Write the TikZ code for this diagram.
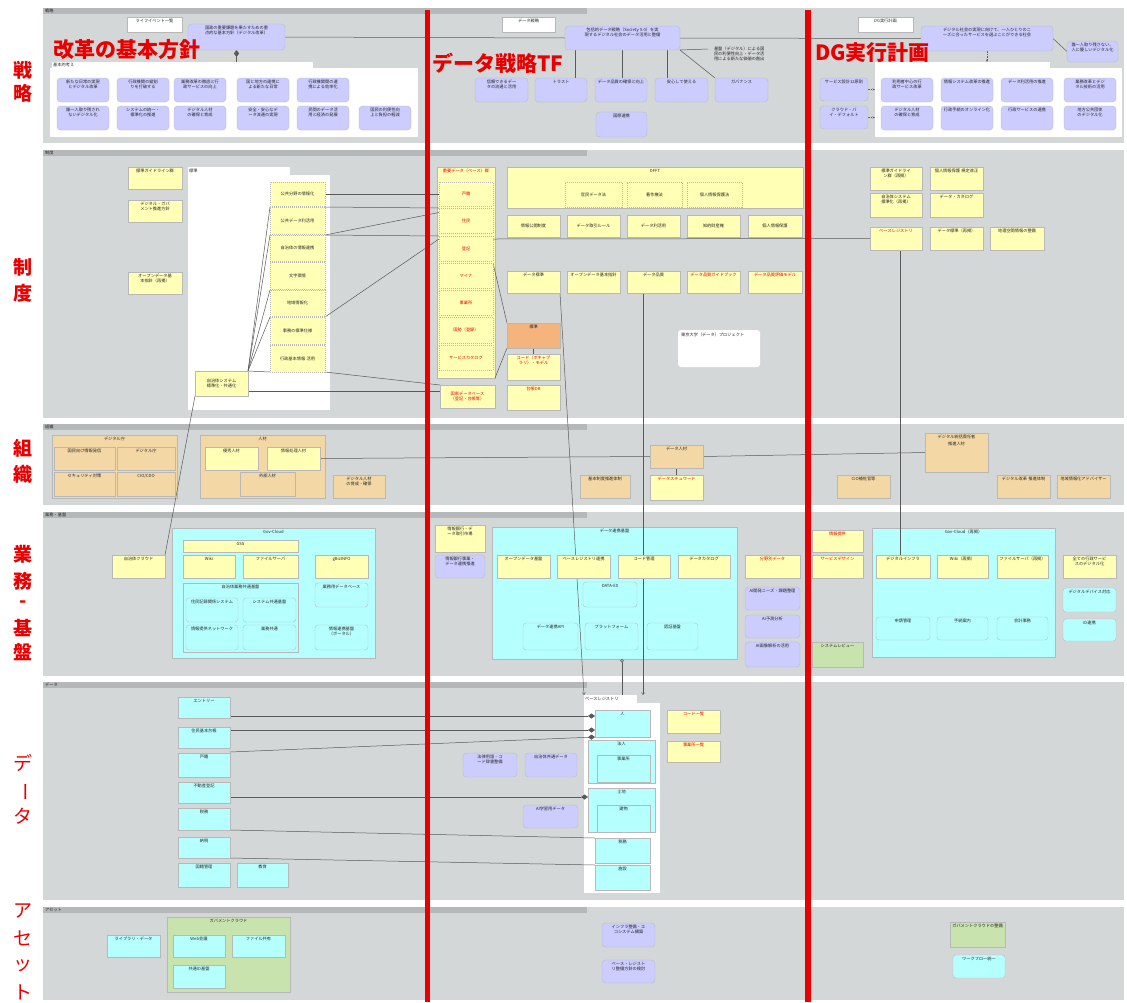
\documentclass[tikz,border=0pt]{standalone}
\usepackage{fontspec}
\setmainfont{Noto Sans CJK JP}
\XeTeXlinebreaklocale "ja"
\XeTeXlinebreakskip=0pt
\usetikzlibrary{arrows.meta,calc}
\pgfdeclarelayer{bg}
\pgfdeclarelayer{ln}
\pgfsetlayers{bg,ln,main}
\definecolor{pnl}{HTML}{D4D7D7}
\definecolor{hdr}{HTML}{B5B8B8}
\definecolor{cYel}{HTML}{FFFFB5}
\definecolor{cLav}{HTML}{CCCCFF}
\definecolor{cOra}{HTML}{F3D8A6}
\definecolor{cOra2}{HTML}{F5B47E}
\definecolor{cCya}{HTML}{B5FFFF}
\definecolor{cGrn}{HTML}{C8E3AE}
\definecolor{cRed}{HTML}{E80000}
\tikzset{
 box/.style={rectangle,inner sep=0pt,outer sep=0pt,draw=black!28,line width=0.3pt},
 yel/.style={fill=cYel}, lav/.style={fill=cLav,rounded corners=3.5pt},
 ora/.style={fill=cOra}, ora2/.style={fill=cOra2},
 cya/.style={fill=cCya}, cyr/.style={fill=cCya,rounded corners=3pt},
 grn/.style={fill=cGrn}, wht/.style={fill=white},
 dsh/.style={dash pattern=on 1pt off 1pt},
 txt/.style={font=\fontsize{4.2}{5}\selectfont,align=center,inner sep=0pt,text=black!85},
 cn/.style={draw=black!65,line width=0.5pt},
 side/.style={font=\bfseries\fontsize{19}{19}\selectfont,text=cRed,inner sep=0pt},
 sidel/.style={font=\fontsize{19}{19}\selectfont,text=cRed,inner sep=0pt},
 bigt/.style={font=\bfseries\fontsize{21}{21}\selectfont,text=cRed,inner sep=0pt,anchor=west},
}
\newcommand\rt[1]{\textcolor{cRed}{#1}}
\newcommand\bxgeom[4]{\pgfmathsetmacro\bxw{#3-#1}\pgfmathsetmacro\bxh{#4-#2}\pgfmathsetmacro\bxx{(#1+#3)/2}\pgfmathsetmacro\bxy{(#2+#4)/2}\pgfmathsetmacro\bxt{#3-#1-4}}
\newcommand\bx[7]{\bxgeom{#3}{#4}{#5}{#6}\node[box,#2,minimum width=\bxw pt,minimum height=\bxh pt] (#1) at (\bxx,\bxy) {};\node[txt,text width=\bxt pt,anchor=north] at ([yshift=-1.8pt]#1.north) {#7};}
\newcommand\bxc[7]{\bxgeom{#3}{#4}{#5}{#6}\node[box,#2,minimum width=\bxw pt,minimum height=\bxh pt] (#1) at (\bxx,\bxy) {};\node[txt,text width=\bxt pt] at (#1.center) {#7};}
\begin{document}
\begin{tikzpicture}[x=1pt,y=-1pt]
\useasboundingbox (0,0) rectangle (1127,1002);
\begin{pgfonlayer}{bg}
\fill[white] (0,0) rectangle (1127,1002);
\foreach \a/\b/\lab in {8/143/戦略,150/418/制度,424/505/組織,512/676/業務・基盤,682/900/データ,907/1000/アセット}{
 \fill[pnl] (43,\a) rectangle (1124,\b);
 \fill[hdr] (43,\a) rectangle (587,\a+6);
 \node[txt,anchor=west] at (45,\a+3) {\lab};
}
% white containers
\bx{sStrip}{wht,draw=none}{52}{62}{313}{68}{}
\bx{sCont}{wht,draw=none}{50}{68}{418}{137}{}
\node[txt,anchor=west] at ([xshift=1pt]sStrip.west) {基本的考え};
\bx{dStrip}{wht,draw=none}{875}{62}{1050}{68}{}
\bx{dCont}{wht,draw=none}{875}{68}{1122}{137}{}
\bx{rStrip}{wht,draw=none}{188}{167}{290}{175}{}
\bx{rCont}{wht,draw=none}{188}{175}{330}{410}{}
\node[txt,anchor=west] at ([xshift=1pt]rStrip.west) {標準};
\bx{tfCol}{yel}{437}{167}{495}{378}{\rt{重要データ（ベース）群}}
\bx{tfRule}{yel}{507}{167}{803}{208}{DFFT}
\bx{oDc}{ora}{52}{435}{177}{498}{デジタル庁}
\bx{oJz}{ora}{200}{435}{325}{498}{人材}
\bx{bGc}{cya}{172}{528}{375}{658}{Gov-Cloud}
\bx{bSub}{cya}{183}{583}{298}{652}{自治体業務共通基盤}
\bx{tbC}{cya}{492}{527}{737}{659}{データ連携基盤}
\bx{dbC}{cya}{872}{528}{1055}{657}{Gov-Cloud（再掲）}
\bx{tdStrip}{wht,draw=none}{584}{695}{637}{703}{}
\bx{tdCont}{wht,draw=none}{584}{703}{660}{893}{}
\node[txt,anchor=west] at ([xshift=1pt]tdStrip.west) {ベースレジストリ};
\bx{aG}{grn}{167}{917}{290}{992}{ガバメントクラウド}
\end{pgfonlayer}

% ===== 戦略 =====
\bx{sLbl}{wht}{127}{17}{182}{32}{ライフイベント一覧}
\bx{sMain}{lav}{188}{24}{285}{50}{国政の重要課題を果たすための重点的な基本方針（デジタル改革）}
\bx{s1}{lav}{57}{78}{109}{102}{新たな日常の実現とデジタル改革}
\bx{s2}{lav}{117}{78}{169}{102}{行政機関の縦割りを打破する}
\bx{s3}{lav}{174}{78}{226}{102}{業務改革の徹底と行政サービスの向上}
\bx{s4}{lav}{237}{78}{289}{102}{国と地方の連携による新たな日常}
\bx{s5}{lav}{297}{78}{349}{102}{行政機関間の連携による効率化}
\bx{s6}{lav}{57}{106}{109}{130}{誰一人取り残されないデジタル化}
\bx{s7}{lav}{117}{106}{169}{130}{システムの統一・標準化の推進}
\bx{s8}{lav}{174}{106}{226}{130}{デジタル人材の確保と育成}
\bx{s9}{lav}{237}{106}{289}{130}{安全・安心なデータ流通の実現}
\bx{s10}{lav}{297}{106}{349}{130}{民間のデータ活用と経済の発展}
\bx{s11}{lav}{359}{106}{411}{130}{国民の利便性向上と負担の軽減}

\bx{tLbl}{wht}{502}{17}{555}{32}{データ戦略}
\bx{tMain}{lav}{565}{26}{680}{50}{包括的データ戦略（Society 5.0）を実現するデジタル社会のデータ活用と整備}
\node[txt,text width=62pt,anchor=north west] (tNote) at (708,47) {基盤（デジタル）による国民の利便性向上・データ活用による新たな価値の創出};
\bx{tC1}{lav}{475}{78}{528}{102}{信頼できるデータの流通と活用}
\bx{tC2}{lav}{535}{78}{587}{102}{トラスト}
\bx{tC3}{lav}{595}{78}{647}{102}{データ品質の確保と向上}
\bx{tC4}{lav}{655}{78}{708}{102}{安心して使える}
\bx{tC5}{lav}{715}{78}{768}{102}{ガバナンス}
\bx{tC6}{lav}{596}{112}{647}{137}{国際連携}

\bx{dLbl}{wht}{858}{17}{913}{32}{DG実行計画}
\bx{dMain}{lav}{921}{26}{1053}{51}{デジタル社会の実現に向けて、一人ひとりのニーズに合ったサービスを選ぶことができる社会}
\bx{dRight}{lav}{1067}{41}{1118}{62}{誰一人取り残さない、人に優しいデジタル化}
\bx{dL1}{lav}{820}{78}{868}{101}{サービス設計12原則}
\bx{dL2}{lav}{820}{106}{868}{129}{クラウド・バイ・デフォルト}
\bx{dG1}{lav}{881}{78}{933}{102}{利用者中心の行政サービス改革}
\bx{dG2}{lav}{941}{78}{993}{102}{情報システム改革の推進}
\bx{dG3}{lav}{1001}{78}{1053}{102}{データ利活用の推進}
\bx{dG4}{lav}{1064}{78}{1116}{102}{業務改革とデジタル技術の活用}
\bx{dG5}{lav}{881}{106}{933}{130}{デジタル人材の確保と育成}
\bx{dG6}{lav}{941}{106}{993}{130}{行政手続のオンライン化}
\bx{dG7}{lav}{1001}{106}{1053}{130}{行政サービスの連携}
\bx{dG8}{lav}{1064}{106}{1116}{130}{地方公共団体のデジタル化}

% ===== 制度 =====
\bx{r1}{yel}{128}{167}{182}{189}{標準ガイドライン群}
\bx{r2}{yel}{128}{200}{182}{222}{デジタル・ガバメント推進方針}
\bx{r3}{yel}{128}{272}{182}{294}{オープンデータ基本指針（再掲）}
\bxc{c1}{yel,dsh}{270}{182}{325}{206}{公共分野の情報化}
\bxc{c2}{yel,dsh}{270}{207}{325}{234}{公共データ利活用}
\bxc{c3}{yel,dsh}{270}{235}{325}{261}{自治体の情報連携}
\bxc{c4}{yel,dsh}{270}{262}{325}{289}{文字環境}
\bxc{c5}{yel,dsh}{270}{290}{325}{316}{地域情報化}
\bxc{c6}{yel,dsh}{270}{317}{325}{344}{事務の標準仕様}
\bxc{c7}{yel,dsh}{270}{345}{325}{372}{行政基本情報 活用}
\bxc{jz}{yel}{195}{371}{248}{396}{自治体システム標準化・共通化}

\bxc{f1}{yel,dsh}{439}{182}{493}{206}{\rt{戸籍}}
\bxc{f2}{yel,dsh}{439}{208}{493}{233}{\rt{住民}}
\bxc{f3}{yel,dsh}{439}{236}{493}{261}{\rt{登記}}
\bxc{f4}{yel,dsh}{439}{263}{493}{288}{\rt{マイナ}}
\bxc{f5}{yel,dsh}{439}{290}{493}{315}{\rt{事業所}}
\bxc{f6}{yel,dsh}{439}{317}{493}{343}{\rt{国勢（登録）}}
\bxc{f7}{yel,dsh}{439}{345}{493}{370}{\rt{サービスカタログ}}
\bxc{tfb}{yel}{440}{385}{495}{408}{\rt{国家データベース（登記・台帳等）}}
\bxc{tR1}{yel,dsh}{565}{182}{622}{207}{官民データ法}
\bxc{tR2}{yel,dsh}{627}{182}{682}{207}{著作権法}
\bxc{tR3}{yel,dsh}{687}{182}{742}{207}{個人情報保護法}
\bxc{q1}{yel}{507}{215}{560}{237}{情報公開制度}
\bxc{q2}{yel}{567}{215}{620}{237}{データ取引ルール}
\bxc{q3}{yel}{627}{215}{680}{237}{データ利活用}
\bxc{q4}{yel}{687}{215}{740}{237}{知的財産権}
\bxc{q5}{yel}{748}{215}{802}{237}{個人情報保護}
\bx{p1}{yel}{507}{271}{560}{293}{データ標準}
\bx{p2}{yel}{567}{271}{620}{293}{オープンデータ基本指針}
\bx{p3}{yel}{627}{271}{680}{293}{データ品質}
\bx{p4}{yel}{687}{271}{740}{293}{\rt{データ品質ガイドブック}}
\bx{p5}{yel}{748}{271}{802}{293}{\rt{データ品質評価モデル}}
\bx{tfo}{ora2}{507}{323}{560}{348}{標準}
\bx{tfy1}{yel}{507}{354}{560}{380}{\rt{コード（ボキャブラリ）・モデル}}
\bx{tfy2}{yel}{507}{385}{560}{410}{\rt{台帳DB}}
\node[box,wht,draw=none,rounded corners=3pt,minimum width=82pt,minimum height=37pt] (tfNote) at (719,348.5) {};
\node[txt,anchor=north west] at ([xshift=3pt,yshift=-3pt]tfNote.north west) {東京大学（データ）プロジェクト};

\bx{g1}{yel}{870}{167}{922}{190}{標準ガイドライン群（再掲）}
\bx{g2}{yel}{930}{167}{983}{190}{個人情報保護 規定改正}
\bx{g3}{yel}{870}{193}{922}{217}{自治体システム標準化（再掲）}
\bx{g4}{yel}{930}{193}{983}{217}{データ・カタログ}
\bx{dgbr}{yel}{870}{227}{922}{250}{\rt{ベースレジストリ}}
\bx{g6}{yel}{930}{227}{983}{250}{データ標準（再掲）}
\bx{g7}{yel}{990}{227}{1044}{250}{地理空間情報の整備}

% ===== 組織 =====
\bx{oD1}{ora}{54}{447}{115}{470}{国民向け情報発信}
\bx{oD2}{ora}{117}{447}{175}{470}{デジタル庁}
\bx{oD3}{ora}{54}{472}{115}{496}{セキュリティ対策}
\bx{oD4}{ora}{117}{472}{175}{496}{CIO/CDO}
\bx{oJ1}{yel}{205}{447}{258}{470}{優秀人材}
\bx{oJ2}{yel}{267}{447}{320}{470}{情報処理人材}
\bx{oJ3}{ora}{240}{472}{295}{496}{外部人材}
\bx{oN}{ora}{333}{475}{385}{498}{デジタル人材の育成・確保}
\bx{toA}{ora}{580}{475}{630}{498}{基本制度推進体制}
\bx{toB}{ora}{650}{445}{703}{468}{データ人材}
\bx{toC}{yel}{650}{475}{703}{500}{\rt{データスチュワード}}
\bx{doC}{ora}{925}{433}{988}{472}{デジタル統括責任者\\[2pt]推進人材}
\bx{doA}{ora}{837}{475}{890}{498}{CIO補佐官等}
\bx{doB}{ora}{997}{475}{1050}{498}{デジタル改革 推進体制}
\bx{doD}{ora}{1057}{475}{1110}{498}{地域情報化アドバイザー}

% ===== 業務・基盤 =====
\bx{bJc}{yel}{112}{555}{165}{578}{自治体クラウド}
\bx{bGss}{yel}{183}{540}{298}{552}{GSS}
\bx{bW}{yel}{183}{555}{235}{578}{Wiki}
\bx{bF}{yel}{243}{555}{298}{578}{ファイルサーバ}
\bx{bO}{yel}{315}{555}{368}{578}{gBizINFO}
\bx{bS1}{cyr}{186}{598}{238}{622}{住民記録関係システム}
\bx{bS2}{cyr}{243}{598}{296}{622}{システム共通基盤}
\bx{bS3}{cyr}{186}{625}{238}{650}{情報提供ネットワーク}
\bx{bS4}{cyr}{243}{625}{296}{650}{業務共通}
\bx{bC1}{cyr}{315}{583}{368}{607}{業務用データベース}
\bx{bC2}{cyr}{315}{625}{368}{650}{情報連携基盤（ポータル）}

\bx{tbA}{yel}{435}{525}{485}{552}{情報銀行・データ取引市場}
\bx{tbB}{lav}{435}{555}{485}{578}{情報銀行事業・データ連携推進}
\bx{tb1}{yel}{497}{555}{550}{578}{オープンデータ基盤}
\bx{tb2}{yel}{557}{555}{610}{578}{ベースレジストリ連携}
\bx{tb3}{yel}{618}{555}{670}{578}{コード管理}
\bx{tb4}{yel}{678}{555}{730}{578}{データカタログ}
\bx{tbD}{cyr}{583}{582}{637}{607}{DATA-EX}
\bx{tb5}{cyr}{523}{623}{578}{650}{データ連携API}
\bx{tb6}{cyr}{585}{623}{638}{650}{プラットフォーム}
\bx{tb7}{cyr}{647}{623}{698}{650}{認証基盤}
\bx{tbR}{yel}{745}{555}{800}{578}{\rt{分野別データ}}
\bx{tbL1}{lav}{745}{587}{800}{610}{AI開発ニーズ・課題整理}
\bx{tbL2}{lav}{745}{615}{800}{638}{AI予測分析}
\bx{tbL3}{lav}{745}{642}{800}{667}{AI画像解析の活用}

\bx{dbA}{yel}{812}{530}{863}{552}{\rt{情報提供}}
\bx{dbB}{yel}{812}{555}{863}{578}{\rt{サービスデザイン}}
\bx{dbG}{grn}{812}{642}{863}{667}{システムレビュー}
\bx{dbY1}{yel}{876}{555}{930}{578}{デジタルインフラ}
\bx{dbY2}{yel}{937}{555}{988}{578}{Wiki（再掲）}
\bx{dbY3}{yel}{997}{555}{1048}{578}{ファイルサーバ（再掲）}
\bx{dbZ1}{cyr}{876}{617}{930}{640}{申請管理}
\bx{dbZ2}{cyr}{937}{617}{988}{640}{手続案内}
\bx{dbZ3}{cyr}{997}{617}{1048}{640}{会計事務}
\bx{dbR1}{yel}{1063}{555}{1116}{578}{全ての行政サービスのデジタル化}
\bx{dbR2}{cyr}{1063}{588}{1116}{612}{デジタルデバイス対応}
\bx{dbR3}{cyr}{1063}{619}{1116}{641}{ID連携}

% ===== データ =====
\bx{d1}{cya}{178}{697}{230}{718}{エントリー}
\bx{d2}{cya}{178}{727}{230}{748}{住民基本台帳}
\bx{d3}{cya}{178}{753}{230}{777}{戸籍}
\bx{d4}{cya}{178}{782}{230}{803}{不動産登記}
\bx{d5}{cya}{178}{808}{230}{830}{税務}
\bx{d6}{cya}{178}{837}{230}{858}{納税}
\bx{d7}{cya}{178}{863}{230}{887}{国籍管理}
\bx{d8}{cya}{237}{863}{288}{887}{教育}
\bx{tdP}{cya}{595}{710}{650}{737}{人}
\bx{tdC}{cya}{588}{740}{655}{783}{法人}
\bx{tdC1}{cya}{597}{755}{650}{782}{事業所}
\bx{tdL}{cya}{588}{788}{655}{832}{土地}
\bx{tdL1}{cya}{597}{805}{650}{832}{建物}
\bx{tdT}{cya}{595}{838}{650}{863}{税務}
\bx{tdF}{cya}{595}{865}{650}{890}{施設}
\bx{tdY1}{yel}{667}{710}{720}{733}{\rt{コード一覧}}
\bx{tdY2}{yel}{667}{741}{720}{762}{\rt{事業所一覧}}
\bx{tdV1}{lav}{463}{753}{517}{777}{法律用語・コード辞書整備}
\bx{tdV2}{lav}{525}{753}{577}{777}{自治体共通データ}
\bx{tdV3}{lav}{523}{805}{578}{828}{AI学習用データ}

% ===== アセット =====
\bx{aL}{cya}{107}{935}{160}{957}{ライブラリ・データ}
\bx{aG1}{cya}{173}{935}{225}{957}{Web会議}
\bx{aG2}{cya}{232}{935}{285}{957}{ファイル共有}
\bx{aG3}{cya}{173}{965}{225}{988}{共通ID基盤}
\bx{taA}{lav}{602}{923}{655}{947}{インフラ整備・エコシステム構築}
\bx{taB}{lav}{602}{960}{655}{983}{ベース・レジストリ整備方針の検討}
\bx{daA}{grn}{950}{922}{1005}{947}{ガバメントクラウドの整備}
\bx{daB}{cyr}{953}{955}{1005}{978}{ワークフロー統一}

% ===== connectors =====
\begin{pgfonlayer}{ln}
\draw[cn] (sMain.east) -- (tMain.west);
\draw[cn] (tMain.east) -- (dMain.west);
\draw[cn,-{Diamond[length=7pt,width=5pt]}] (sMain.south |- sStrip.north) -- (sMain.south);
\draw[cn] ([xshift=14pt]tC2.north) -- ([xshift=14pt]tC2.north |- tMain.south);
\draw[cn] ([xshift=1pt]tC3.north) -- ([xshift=1pt]tC3.north |- tMain.south);
\draw[cn] ([xshift=-14pt]tC4.north) -- ([xshift=-14pt]tC4.north |- tMain.south);
\draw[cn] (tC5.north west) -- (tMain.south east);
\draw[cn] ([yshift=-2pt]tNote.north west) -- (tMain.south east);
\draw[cn] (dMain.east) -- (dRight.west);
\draw[cn,dash pattern=on 1.5pt off 1pt,-{Stealth[length=2.5pt,width=2pt]}] (dMain.south) -- (dMain.south |- dStrip.north);
\draw[cn,dash pattern=on 1.5pt off 1pt,-{Stealth[length=2.5pt,width=2pt]}] (dL1.east) -- (dL1.east -| dCont.west);
\draw[cn,dash pattern=on 1.5pt off 1pt,-{Stealth[length=2.5pt,width=2pt]}] (dL2.east) -- (dL2.east -| dCont.west);
% 制度
\draw[cn] (jz.north east) -- (c2.north west);
\draw[cn] (jz.north east) -- (c3.north west);
\draw[cn] (jz.north east) -- (c5.north west);
\draw[cn] (jz.north east) -- (c6.north west);
\draw[cn] (jz.north east) -- (c7.south west);
\draw[cn] (c1.east) -- (f1.west);
\draw[cn] (c2.north east) -- (f2.north west);
\draw[cn] (c3.north east) -- ([yshift=8pt]f2.west);
\draw[cn] (c3.north east) -- (f3.north west);
\draw[cn] (c6.north east) -- ([yshift=-3pt]f3.north west);
\draw[cn] (c7.south east) -- (tfb.north west);
\draw[cn] ([yshift=5pt]jz.south east) -- ([yshift=5pt]jz.south east -| tfb.west);
\draw[cn] (jz.south west) -- (bJc.north east);
\draw[cn] (f4.north east) -- (tfo.north west);
\draw[cn] (tfo.south west) -- (tfCol.south east);
\draw[cn] (tfo.south) -- (tfy1.north);
\draw[cn] ([yshift=-3pt]f3.north east) -- (dgbr.west);
\draw[cn,-{Straight Barb[length=2pt,width=3pt]}] (p1.south east) -- (tdStrip.north west);
\draw[cn,-{Straight Barb[length=2pt,width=3pt]}] ([xshift=-10.5pt]p3.south) -- ([xshift=-10.5pt]p3.south |- tdStrip.north);
\draw[cn] ([xshift=4pt]dgbr.south) -- ([xshift=4pt]dgbr.south |- dbY1.north);
% 組織
\draw[cn] (oJ2.east) -- (toB.west);
\draw[cn] (toB.east) -- (doC.west);
\draw[cn] (toB.south) -- (toC.north);
% 業務 -> データ
\draw[cn,{Circle[open,length=3.5pt]}-] ([xshift=7.5pt]tbC.south) -- ([xshift=7.5pt]tbC.south |- tdStrip.north);
% データ
\draw[cn,-{Diamond[length=7pt,width=5pt]}] ([yshift=-8.5pt]d1.east) -- ([yshift=-8.5pt]d1.east -| tdP.west);
\draw[cn,-{Diamond[length=7pt,width=5pt]}] ([yshift=7.5pt]d2.east) -- ([yshift=7.5pt]d2.east -| tdP.west);
\draw[cn,-{Diamond[length=7pt,width=5pt]}] ([yshift=13pt]d3.east) -- (tdP.south west);
\draw[cn,-{Diamond[length=7pt,width=5pt]}] ([yshift=-4.5pt]d4.east) -- ([yshift=-4.5pt]d4.east -| tdL.west);
\draw[cn] (d5.south east) -- (tdT.north west);
\draw[cn] (d6.south east) -- (tdF.north west);
\end{pgfonlayer}

% ===== red overlays =====
\fill[cRed] (425,10) rectangle (430,1002);
\fill[cRed] (805,10) rectangle (811,1002);
\node[bigt] (tt1) at (53,50) {改革の基本方針};
\node[bigt] (tt2) at (432,63) {データ戦略TF};
\node[bigt] (tt3) at (815,53) {DG実行計画};
\node[side] (l1) at (23,70) {戦};
\node[side] (l2) at (23,93) {略};
\node[side] (l3) at (23,267) {制};
\node[side] (l4) at (23,293) {度};
\node[side] (l5) at (23,448) {組};
\node[side] (l6) at (23,474) {織};
\node[side] (l7) at (23,554) {業};
\node[side] (l8) at (23,581) {務};
\node[side] (l9) at (23,604) {-};
\node[side] (l10) at (23,628) {基};
\node[side] (l11) at (23,652) {盤};
\node[sidel] (l12) at (23,763) {デ};
\node[sidel,rotate=-90] (l13) at (23,792) {ー};
\node[sidel] (l14) at (23,816) {タ};
\node[sidel] (l15) at (23,911) {ア};
\node[sidel] (l16) at (23,938) {セ};
\node[sidel] (l17) at (23,966) {ッ};
\node[sidel] (l18) at (23,992) {ト};
\end{tikzpicture}
\end{document}
